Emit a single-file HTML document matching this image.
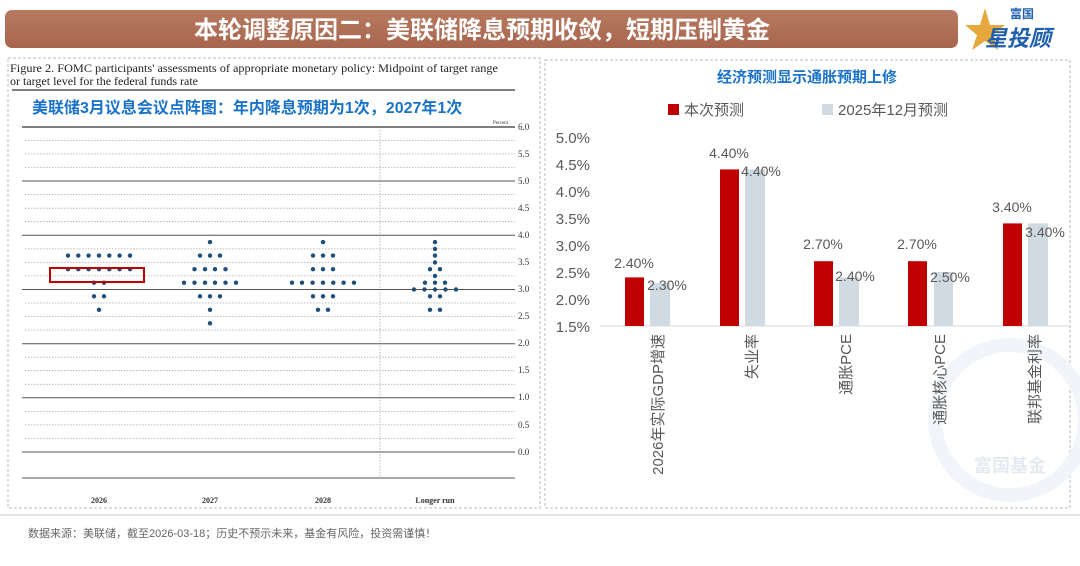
<!DOCTYPE html>
<html><head><meta charset="utf-8"><style>
body{margin:0;width:1080px;height:561px;background:#fff;overflow:hidden;font-family:"Liberation Sans","Noto Sans CJK SC",sans-serif}
</style></head><body>
<svg width="1080" height="561" xmlns="http://www.w3.org/2000/svg" font-family="Liberation Sans, Noto Sans CJK SC, sans-serif">
<defs><linearGradient id="hg" x1="0" y1="0" x2="0" y2="1"><stop offset="0" stop-color="#b87a62"/><stop offset="1" stop-color="#a8654d"/></linearGradient></defs>
<rect x="5" y="10" width="953" height="38" rx="7" fill="url(#hg)"/>
<text x="482" y="38" text-anchor="middle" font-size="24" font-weight="bold" fill="#fff">本轮调整原因二：美联储降息预期收敛，短期压制黄金</text>
<polygon points="985,8 990,25 1005,25 993,35 998,50 985,41 972,50 977,35 965,25 980,25" fill="#e4a83c"/>
<text x="1010" y="18" font-size="12" font-weight="bold" fill="#1f5fae">富国</text>
<text x="985" y="46" font-size="22" font-weight="bold" fill="#1f5fae" font-style="italic">星投顾</text>
<rect x="8" y="58" width="532" height="450" fill="none" stroke="#bbb" stroke-dasharray="3,2"/>
<rect x="545" y="60" width="525" height="448" fill="none" stroke="#bbb" stroke-dasharray="3,2"/>
<text x="10" y="72" font-family="Liberation Serif,serif" font-size="12" textLength="488" lengthAdjust="spacingAndGlyphs" fill="#222">Figure 2. FOMC participants' assessments of appropriate monetary policy: Midpoint of target range</text>
<text x="10" y="85" font-family="Liberation Serif,serif" font-size="12" textLength="188" lengthAdjust="spacingAndGlyphs" fill="#222">or target level for the federal funds rate</text>
<line x1="12" y1="90" x2="515" y2="90" stroke="#333" stroke-width="1.2"/>
<text x="32" y="113" font-size="16" font-weight="bold" fill="#1a73c8">美联储3月议息会议点阵图：年内降息预期为1次，2027年1次</text>
<text x="508" y="124" text-anchor="end" font-family="Liberation Serif,serif" font-size="5" fill="#333">Percent</text>
<g stroke="#aaa" stroke-width="0.8" stroke-dasharray="1.5,1.5">
<line x1="25" y1="140.5" x2="515" y2="140.5"/><line x1="25" y1="154" x2="515" y2="154"/><line x1="25" y1="167.6" x2="515" y2="167.6"/>
<line x1="25" y1="194.6" x2="515" y2="194.6"/><line x1="25" y1="208.2" x2="515" y2="208.2"/><line x1="25" y1="221.7" x2="515" y2="221.7"/>
<line x1="25" y1="248.9" x2="515" y2="248.9"/><line x1="25" y1="262.4" x2="515" y2="262.4"/><line x1="25" y1="275.9" x2="515" y2="275.9"/>
<line x1="25" y1="303" x2="515" y2="303"/><line x1="25" y1="316.6" x2="515" y2="316.6"/><line x1="25" y1="330.1" x2="515" y2="330.1"/>
<line x1="25" y1="357.2" x2="515" y2="357.2"/><line x1="25" y1="370.7" x2="515" y2="370.7"/><line x1="25" y1="384.3" x2="515" y2="384.3"/>
<line x1="25" y1="411.4" x2="515" y2="411.4"/><line x1="25" y1="424.9" x2="515" y2="424.9"/><line x1="25" y1="438.5" x2="515" y2="438.5"/>
<line x1="380" y1="130" x2="380" y2="478"/>
</g>
<g stroke="#555" stroke-width="1">
<line x1="22" y1="127" x2="515" y2="127" stroke-width="1.4"/>
<line x1="22" y1="181" x2="515" y2="181"/><line x1="22" y1="235.3" x2="515" y2="235.3"/><line x1="22" y1="289.5" x2="515" y2="289.5"/>
<line x1="22" y1="343.7" x2="515" y2="343.7"/><line x1="22" y1="397.8" x2="515" y2="397.8"/><line x1="22" y1="452" x2="515" y2="452"/>
<line x1="22" y1="478" x2="515" y2="478"/>
</g>
<g font-family="Liberation Serif,serif" font-size="9" fill="#333">
<text x="518" y="130">6.0</text><text x="518" y="157">5.5</text><text x="518" y="184">5.0</text><text x="518" y="211">4.5</text><text x="518" y="238">4.0</text><text x="518" y="265">3.5</text><text x="518" y="292">3.0</text><text x="518" y="319">2.5</text><text x="518" y="346">2.0</text><text x="518" y="373">1.5</text><text x="518" y="400">1.0</text><text x="518" y="428">0.5</text><text x="518" y="455">0.0</text>
<text x="99" y="503" text-anchor="middle" font-weight="bold" font-size="8">2026</text><text x="210" y="503" text-anchor="middle" font-weight="bold" font-size="8">2027</text><text x="323" y="503" text-anchor="middle" font-weight="bold" font-size="8">2028</text><text x="435" y="503" text-anchor="middle" font-weight="bold" font-size="8">Longer run</text>
</g>
<g fill="#1f4e79">
<circle cx="68" cy="255.6" r="2.2"/><circle cx="78.3" cy="255.6" r="2.2"/><circle cx="88.6" cy="255.6" r="2.2"/><circle cx="99" cy="255.6" r="2.2"/><circle cx="109.3" cy="255.6" r="2.2"/><circle cx="119.6" cy="255.6" r="2.2"/><circle cx="130" cy="255.6" r="2.2"/>
<circle cx="68" cy="269.2" r="2.2"/><circle cx="78.3" cy="269.2" r="2.2"/><circle cx="88.6" cy="269.2" r="2.2"/><circle cx="99" cy="269.2" r="2.2"/><circle cx="109.3" cy="269.2" r="2.2"/><circle cx="119.6" cy="269.2" r="2.2"/><circle cx="130" cy="269.2" r="2.2"/>
<circle cx="94" cy="282.7" r="2.2"/><circle cx="104" cy="282.7" r="2.2"/>
<circle cx="94" cy="296.3" r="2.2"/><circle cx="104" cy="296.3" r="2.2"/>
<circle cx="99" cy="309.8" r="2.2"/>
<circle cx="210" cy="242.1" r="2.2"/>
<circle cx="200" cy="255.6" r="2.2"/><circle cx="210" cy="255.6" r="2.2"/><circle cx="220" cy="255.6" r="2.2"/>
<circle cx="194.5" cy="269.2" r="2.2"/><circle cx="205" cy="269.2" r="2.2"/><circle cx="215" cy="269.2" r="2.2"/><circle cx="225.5" cy="269.2" r="2.2"/>
<circle cx="184" cy="282.7" r="2.2"/><circle cx="194.5" cy="282.7" r="2.2"/><circle cx="205" cy="282.7" r="2.2"/><circle cx="215" cy="282.7" r="2.2"/><circle cx="225.5" cy="282.7" r="2.2"/><circle cx="236" cy="282.7" r="2.2"/>
<circle cx="200" cy="296.3" r="2.2"/><circle cx="210" cy="296.3" r="2.2"/><circle cx="220" cy="296.3" r="2.2"/>
<circle cx="210" cy="309.8" r="2.2"/><circle cx="210" cy="323.3" r="2.2"/>
<circle cx="323" cy="242.1" r="2.2"/>
<circle cx="313" cy="255.6" r="2.2"/><circle cx="323" cy="255.6" r="2.2"/><circle cx="333" cy="255.6" r="2.2"/>
<circle cx="313" cy="269.2" r="2.2"/><circle cx="323" cy="269.2" r="2.2"/><circle cx="333" cy="269.2" r="2.2"/>
<circle cx="292" cy="282.7" r="2.2"/><circle cx="302" cy="282.7" r="2.2"/><circle cx="312.6" cy="282.7" r="2.2"/><circle cx="323" cy="282.7" r="2.2"/><circle cx="333.3" cy="282.7" r="2.2"/><circle cx="343.6" cy="282.7" r="2.2"/><circle cx="354" cy="282.7" r="2.2"/>
<circle cx="313" cy="296.3" r="2.2"/><circle cx="323" cy="296.3" r="2.2"/><circle cx="333" cy="296.3" r="2.2"/>
<circle cx="318" cy="309.8" r="2.2"/><circle cx="328" cy="309.8" r="2.2"/>
<circle cx="435" cy="242.1" r="2.2"/><circle cx="435" cy="248.9" r="2.2"/><circle cx="435" cy="255.6" r="2.2"/><circle cx="435" cy="262.4" r="2.2"/>
<circle cx="430" cy="269.2" r="2.2"/><circle cx="440" cy="269.2" r="2.2"/>
<circle cx="435" cy="275.9" r="2.2"/>
<circle cx="425" cy="282.7" r="2.2"/><circle cx="435" cy="282.7" r="2.2"/><circle cx="445" cy="282.7" r="2.2"/>
<circle cx="414" cy="289.5" r="2.2"/><circle cx="424.5" cy="289.5" r="2.2"/><circle cx="435" cy="289.5" r="2.2"/><circle cx="445.5" cy="289.5" r="2.2"/><circle cx="456" cy="289.5" r="2.2"/>
<circle cx="430" cy="296.3" r="2.2"/><circle cx="440" cy="296.3" r="2.2"/>
<circle cx="430" cy="309.8" r="2.2"/><circle cx="440" cy="309.8" r="2.2"/>
</g>
<rect x="50" y="268" width="94" height="14" fill="none" stroke="#c00000" stroke-width="2"/>
<circle cx="1010" cy="420" r="75" fill="none" stroke="#f1f4f8" stroke-width="14"/>
<text x="1010" y="472" text-anchor="middle" font-size="18" font-weight="bold" fill="#e6eaf0">富国基金</text>
<text x="807" y="82" text-anchor="middle" font-size="15" font-weight="bold" fill="#1a73c8">经济预测显示通胀预期上修</text>
<rect x="668" y="104" width="11" height="11" fill="#c00000"/>
<text x="684" y="115" font-size="15" fill="#595959">本次预测</text>
<rect x="822" y="104" width="11" height="11" fill="#d0dae3"/>
<text x="838" y="115" font-size="15" fill="#595959">2025年12月预测</text>
<g font-size="15" fill="#595959" text-anchor="end">
<text x="590" y="143">5.0%</text><text x="590" y="170">4.5%</text><text x="590" y="197">4.0%</text><text x="590" y="224">3.5%</text><text x="590" y="251">3.0%</text><text x="590" y="278">2.5%</text><text x="590" y="305">2.0%</text><text x="590" y="332">1.5%</text>
</g>
<line x1="600" y1="326" x2="1070" y2="326" stroke="#d9d9d9"/>
<g fill="#c00000">
<rect x="625" y="277.4" width="19" height="48.6"/><rect x="720" y="169.4" width="19" height="156.6"/><rect x="814" y="261.2" width="19" height="64.8"/><rect x="908" y="261.2" width="19" height="64.8"/><rect x="1003" y="223.4" width="19" height="102.6"/>
</g>
<g fill="#d0dae3">
<rect x="650" y="282.8" width="20" height="43.2"/><rect x="745" y="169.4" width="20" height="156.6"/><rect x="839" y="277.4" width="20" height="48.6"/><rect x="934" y="272" width="19" height="54"/><rect x="1028" y="223.4" width="20" height="102.6"/>
</g>
<g font-size="14" fill="#595959" text-anchor="middle">
<text x="634" y="268">2.40%</text><text x="667" y="290">2.30%</text>
<text x="729" y="158">4.40%</text><text x="761" y="176">4.40%</text>
<text x="823" y="249">2.70%</text><text x="855" y="281">2.40%</text>
<text x="917" y="249">2.70%</text><text x="950" y="282">2.50%</text>
<text x="1012" y="212">3.40%</text><text x="1045" y="237">3.40%</text>
</g>
<g font-size="15" fill="#595959" text-anchor="end">
<text transform="translate(663,334) rotate(-90)">2026年实际GDP增速</text>
<text transform="translate(757,334) rotate(-90)">失业率</text>
<text transform="translate(851,334) rotate(-90)">通胀PCE</text>
<text transform="translate(945,334) rotate(-90)">通胀核心PCE</text>
<text transform="translate(1040,334) rotate(-90)">联邦基金利率</text>
</g>
<line x1="0" y1="515" x2="1080" y2="515" stroke="#ccc"/>
<text x="28" y="537" font-size="11" fill="#666">数据来源：美联储，截至2026-03-18；历史不预示未来，基金有风险，投资需谨慎！</text>
</svg>
</body></html>
